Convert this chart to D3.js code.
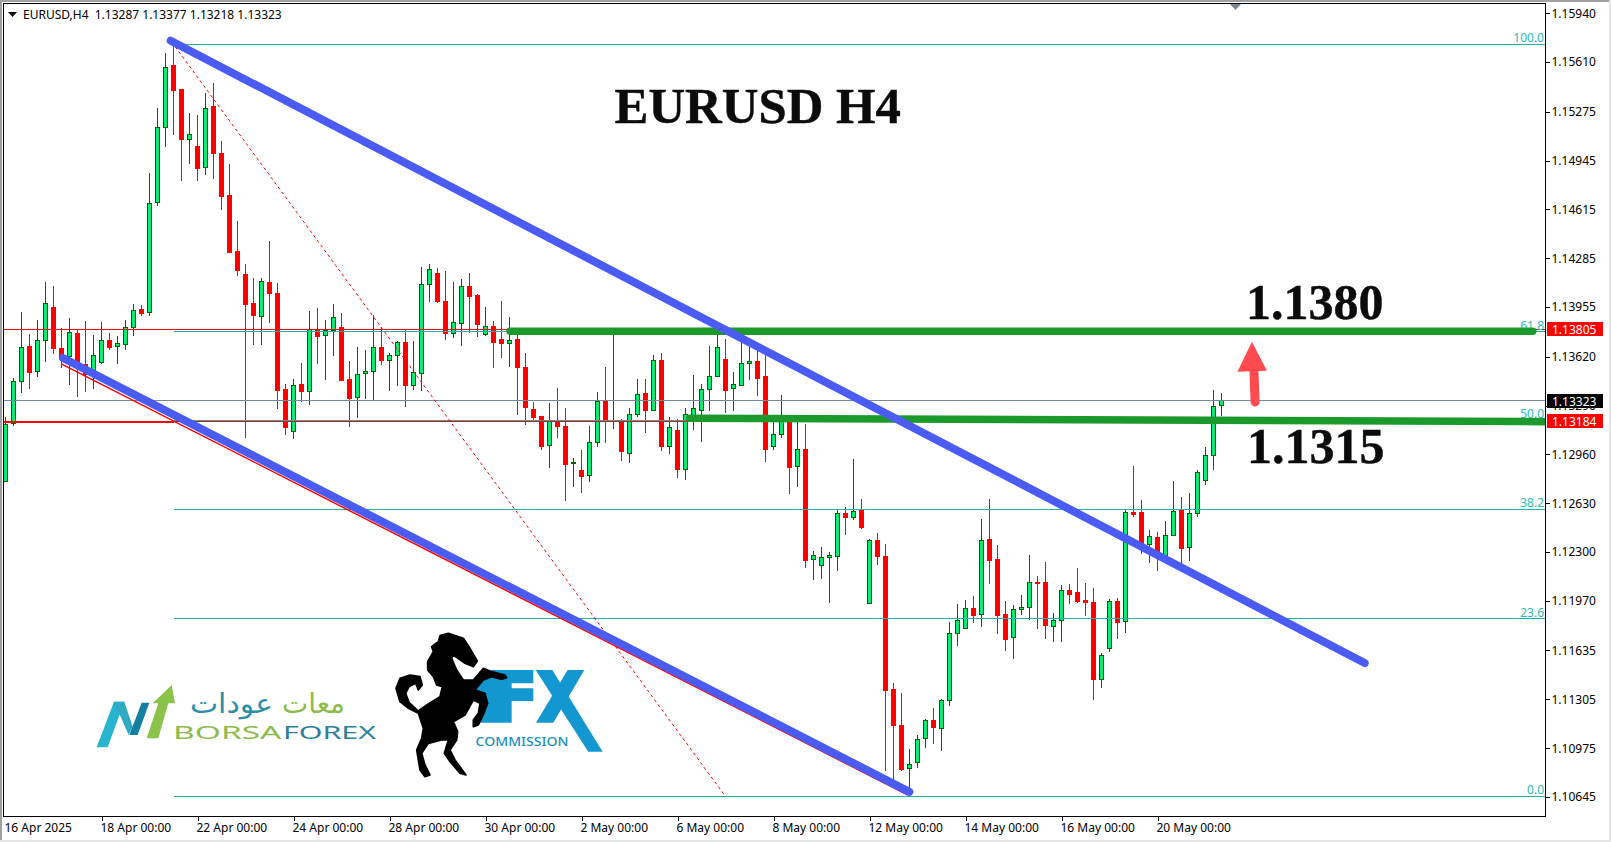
<!DOCTYPE html>
<html><head><meta charset="utf-8">
<script src="https://cdn.jsdelivr.net/npm/d3@7/dist/d3.min.js"></script>
<style>
html,body{margin:0;padding:0;background:#fff;overflow:hidden}
svg{display:block}
.ax text{font-family:"Noto Sans",sans-serif;font-size:12px;fill:#000}
.ax path,.ax line{stroke:#000;stroke-width:1;shape-rendering:crispEdges}
</style></head><body><div id="c"></div>
<script>
const opens=[1.12780,1.13170,1.13451,1.13692,1.13519,1.13730,1.13953,1.13678,1.13620,1.13778,
1.13564,1.13507,1.13579,1.13730,1.13688,1.13703,1.13816,1.13942,1.13920,1.14663,
1.15170,1.15584,1.15422,1.15088,1.15043,1.14897,1.15307,1.14994,1.14710,1.14332,
1.14176,1.13976,1.13890,1.14122,1.14048,1.13395,1.13113,1.13435,1.13386,1.13800,
1.13764,1.13796,1.13818,1.13469,1.13343,1.13507,1.13519,1.13683,1.13595,1.13627,
1.13717,1.13426,1.13505,1.14109,1.14179,1.13996,1.13778,1.13843,1.14095,1.14030,
1.13769,1.13827,1.13733,1.13708,1.13739,1.13550,1.13260,1.13219,1.13019,1.13181,
1.13151,1.12899,1.12854,1.12816,1.13041,1.13320,1.13185,1.13192,1.12964,1.13228,
1.13368,1.13260,1.13597,1.13012,1.13118,1.12856,1.13226,1.13260,1.13397,1.13485,
1.13604,1.13404,1.13424,1.13573,1.13588,1.13489,1.13012,1.13093,1.13181,1.12877,
1.12996,1.12248,1.12208,1.12262,1.12268,1.12561,1.12532,1.12584,1.11953,1.12379,
1.12271,1.11368,1.11129,1.10836,1.10877,1.11039,1.11163,1.11106,1.11296,1.11748,
1.11784,1.11919,1.11876,1.12388,1.12253,1.11881,1.11723,1.11910,1.11924,1.12097,
1.12091,1.11796,1.11836,1.12043,1.12030,1.11976,1.11962,1.11437,1.11647,1.11969,
1.11832,1.12570,1.12564,1.12350,1.12401,1.12268,1.12410,1.12584,1.12332,1.12559,
1.12782,1.12951,1.13287];
const highs=[1.13215,1.13473,1.13920,1.13773,1.13868,1.14122,1.14097,1.13811,1.13879,1.13800,
1.13861,1.13766,1.13854,1.13778,1.13760,1.13868,1.13976,1.13969,1.14859,1.15300,
1.15670,1.15726,1.15429,1.15264,1.15251,1.15399,1.15467,1.15077,1.14922,1.14537,
1.14244,1.14149,1.14149,1.14399,1.14115,1.13435,1.13469,1.13575,1.13928,1.13947,
1.13868,1.13976,1.13913,1.13591,1.13685,1.13665,1.13901,1.13823,1.13647,1.13728,
1.13800,1.13726,1.14224,1.14246,1.14217,1.14199,1.14122,1.14142,1.14185,1.14043,
1.13956,1.13861,1.13996,1.13888,1.13766,1.13645,1.13311,1.13219,1.13305,1.13408,
1.13273,1.12935,1.12989,1.13149,1.13379,1.13550,1.13800,1.13199,1.13271,1.13469,
1.13469,1.13629,1.13645,1.13212,1.13199,1.13271,1.13494,1.13433,1.13692,1.13800,
1.13739,1.13516,1.13778,1.13688,1.13665,1.13631,1.13226,1.13361,1.13215,1.13192,
1.13163,1.12305,1.12332,1.12298,1.12584,1.12604,1.12928,1.12658,1.12388,1.12428,
1.12354,1.11415,1.11347,1.10969,1.11063,1.11172,1.11246,1.11307,1.11827,1.11949,
1.11976,1.12003,1.12523,1.12658,1.12347,1.11969,1.11942,1.12009,1.12280,1.12138,
1.12232,1.11888,1.12077,1.12084,1.12192,1.12091,1.12057,1.11618,1.11982,1.11989,
1.12584,1.12881,1.12651,1.12449,1.12435,1.12510,1.12780,1.12672,1.12699,1.12854,
1.13010,1.13395,1.13377];
const lows=[1.12780,1.13154,1.13377,1.13401,1.13485,1.13586,1.13638,1.13546,1.13429,1.13350,
1.13383,1.13401,1.13570,1.13665,1.13570,1.13665,1.13762,1.13897,1.13897,1.14640,
1.15039,1.15118,1.14807,1.14922,1.14807,1.14847,1.14820,1.14611,1.14323,1.14165,
1.13073,1.13699,1.13699,1.13850,1.13266,1.13091,1.13064,1.13316,1.13293,1.13570,
1.13462,1.13624,1.13456,1.13147,1.13208,1.13332,1.13323,1.13564,1.13388,1.13424,
1.13282,1.13395,1.13390,1.13992,1.13985,1.13733,1.13748,1.13694,1.13782,1.13755,
1.13760,1.13543,1.13613,1.13550,1.13226,1.13158,1.13192,1.12989,1.12868,1.13070,
1.12645,1.12739,1.12699,1.12773,1.13012,1.13037,1.13131,1.12915,1.12901,1.13215,
1.13104,1.13253,1.12982,1.12962,1.12800,1.12787,1.13124,1.13043,1.13253,1.13480,
1.13239,1.13253,1.13422,1.13462,1.13354,1.12908,1.12989,1.13070,1.12692,1.12739,
1.12192,1.12111,1.12118,1.11955,1.12172,1.12415,1.12516,1.12455,1.11949,1.12212,
1.10820,1.10759,1.10822,1.10669,1.10843,1.10978,1.11005,1.10958,1.11259,1.11665,
1.11780,1.11820,1.11793,1.12084,1.11746,1.11631,1.11577,1.11874,1.11841,1.11780,
1.11712,1.11692,1.11692,1.11949,1.11955,1.11868,1.11300,1.11381,1.11624,1.11712,
1.11753,1.12537,1.12287,1.12226,1.12172,1.12246,1.12408,1.12219,1.12239,1.12537,
1.12753,1.12854,1.13218];
const closes=[1.13165,1.13453,1.13683,1.13519,1.13730,1.13980,1.13674,1.13620,1.13784,1.13575,
1.13496,1.13629,1.13730,1.13681,1.13710,1.13818,1.13933,1.13915,1.14656,1.15170,
1.15575,1.15417,1.15084,1.15122,1.14897,1.15298,1.14989,1.14701,1.14327,1.14201,
1.13971,1.13895,1.14129,1.14046,1.13390,1.13140,1.13426,1.13390,1.13802,1.13762,
1.13800,1.13886,1.13462,1.13343,1.13501,1.13521,1.13683,1.13593,1.13629,1.13717,
1.13429,1.13512,1.14109,1.14210,1.13989,1.13782,1.13852,1.14095,1.14025,1.13836,
1.13825,1.13721,1.13708,1.13730,1.13552,1.13282,1.13208,1.13019,1.13181,1.13147,
1.12897,1.12906,1.12814,1.13041,1.13318,1.13192,1.13192,1.12982,1.13230,1.13365,
1.13253,1.13595,1.13016,1.13142,1.12854,1.13230,1.13271,1.13399,1.13487,1.13683,
1.13395,1.13433,1.13575,1.13588,1.13476,1.12996,1.13095,1.13181,1.12868,1.12994,
1.12246,1.12278,1.12264,1.12278,1.12561,1.12532,1.12575,1.12469,1.12379,1.12268,
1.11368,1.11127,1.10834,1.10865,1.11034,1.11163,1.11113,1.11298,1.11750,1.11838,
1.11919,1.11874,1.12379,1.12246,1.11874,1.11712,1.11913,1.11926,1.12095,1.12093,
1.11800,1.11838,1.12041,1.12016,1.11969,1.11962,1.11442,1.11602,1.11967,1.11827,
1.12568,1.12557,1.12314,1.12406,1.12280,1.12413,1.12575,1.12327,1.12561,1.12838,
1.12953,1.13284,1.13323];

const priceTicks=[1.15940,1.15610,1.15275,1.14945,1.14615,1.14285,1.13955,1.13620,1.13290,1.12960,1.12630,1.12300,1.11970,1.11635,1.11305,1.10975,1.10645];
const timeTickBars=[0,12,24,36,48,60,72,84,96,108,120,132,144];
const timeTickLabels=["16 Apr 2025","18 Apr 00:00","22 Apr 00:00","24 Apr 00:00","28 Apr 00:00","30 Apr 00:00","2 May 00:00","6 May 00:00","8 May 00:00","12 May 00:00","14 May 00:00","16 May 00:00","20 May 00:00"];
const fibLevels=[100.0,61.8,50.0,38.2,23.6,0.0];
const fibHigh=1.15731, fibLow=1.10649, fibStartBar=21;
const bidPrice=1.13323;
const redLevels=[1.13805,1.13184];
const lowerChannel=[[7.19,1.13611],[112.98,1.10680]];
const lowerChannelRed=[[7.03,1.13570],[112.8,1.10658]];
const upperChannel=[[20.65,1.15755],[169.9,1.11550]];
const fibDiagonal=[[21.2,1.15715],[90.0,1.10649]];
const greenUpper=[[63.06,1.13792],[190.9,1.13792]];
const greenLower=[[85.5,1.13204],[192.5,1.13181]];
const arrowTip=[155.8,1.13721], arrowTail=[156.2,1.13314];
const headerText="EURUSD,H4  1.13287 1.13377 1.13218 1.13323";

const W=1611,H=842,L=4,T=4,R=1545.5,B=816.5;
const svg=d3.select("#c").append("svg").attr("width",W).attr("height",H);
const y=d3.scaleLinear().domain([1.15940,1.10645]).range([13.3,797]);
const x=d3.scaleLinear().domain([0,152]).range([5.5,1221.5]);
const crisp=v=>Math.round(v-0.5)+0.5;

svg.append("rect").attr("x",0).attr("y",0).attr("width",W).attr("height",2).attr("fill","#a0a0a0");
svg.append("rect").attr("x",0).attr("y",0).attr("width",2).attr("height",H).attr("fill","#a0a0a0");
svg.append("rect").attr("x",W-2).attr("y",0).attr("width",2).attr("height",H).attr("fill","#e4e4e4");
svg.append("rect").attr("x",0).attr("y",H-2).attr("width",W).attr("height",2).attr("fill","#e4e4e4");

svg.append("defs").append("clipPath").attr("id","plot").append("rect")
 .attr("x",L).attr("y",T).attr("width",R-L).attr("height",B-T);
const plot=svg.append("g").attr("clip-path","url(#plot)");

const data=opens.map((o,i)=>({i,o,h:highs[i],l:lows[i],c:closes[i]}));
const cg=plot.append("g").attr("shape-rendering","crispEdges");
const DK="#006400",BU="#00EE76",RD="#FF0000";
const up=d=>d.c>=d.o;
cg.selectAll("line").data(data).join("line")
 .attr("x1",d=>x(d.i)).attr("x2",d=>x(d.i))
 .attr("y1",d=>y(d.h)).attr("y2",d=>y(d.l))
 .attr("stroke",d=>up(d)?DK:RD);
cg.selectAll("rect").data(data).join("rect")
 .attr("x",d=>x(d.i)-2).attr("width",4)
 .attr("y",d=>crisp(y(Math.max(d.o,d.c))))
 .attr("height",d=>Math.max(1,Math.round(Math.abs(y(d.o)-y(d.c)))))
 .attr("fill",d=>up(d)?BU:RD).attr("stroke",d=>up(d)?DK:RD);

const hl=plot.append("g").attr("shape-rendering","crispEdges");
hl.selectAll("line.r").data(redLevels).join("line").attr("class","r")
 .attr("x1",L).attr("x2",R).attr("y1",d=>crisp(y(d))).attr("y2",d=>crisp(y(d))).attr("stroke",RD);
hl.append("line").attr("x1",L).attr("x2",x(fibStartBar)).attr("y1",crisp(y(redLevels[1]))).attr("y2",crisp(y(redLevels[1]))).attr("stroke",RD).attr("stroke-width",2);
hl.append("line").attr("x1",L).attr("x2",R).attr("y1",crisp(y(bidPrice))).attr("y2",crisp(y(bidPrice))).attr("stroke","#778899");
const fibPrice=l=>fibLow+(fibHigh-fibLow)*l/100;
hl.selectAll("line.f").data(fibLevels).join("line").attr("class","f")
 .attr("x1",x(fibStartBar)).attr("x2",R)
 .attr("y1",d=>crisp(y(fibPrice(d)))).attr("y2",d=>crisp(y(fibPrice(d)))).attr("stroke","#20B2AA");
plot.selectAll("text.f").data(fibLevels).join("text").attr("class","f")
 .attr("x",R-1.5).attr("y",d=>y(fibPrice(d))-2).attr("text-anchor","end")
 .attr("font-family","Noto Sans, sans-serif").attr("font-size",12).attr("fill","#2DBBB3")
 .text(d=>d.toFixed(1));

const ln=d3.line().x(d=>x(d[0])).y(d=>y(d[1]));
plot.append("path").attr("d",ln(fibDiagonal)).attr("fill","none").attr("stroke",RD).attr("stroke-dasharray","3,3");
plot.append("path").attr("d",ln(lowerChannelRed)).attr("fill","none").attr("stroke",RD).attr("stroke-width",1.5);
plot.append("path").attr("d",ln(greenLower)).attr("fill","none").attr("stroke","#1B9A2B").attr("stroke-width",7.5).attr("stroke-linecap","round");
plot.append("path").attr("d",ln(greenUpper)).attr("fill","none").attr("stroke","#1B9A2B").attr("stroke-width",7.5).attr("stroke-linecap","round");
[upperChannel,lowerChannel].forEach(s=>plot.append("path").attr("d",ln(s)).attr("fill","none").attr("stroke","#4A5CF5").attr("stroke-width",8).attr("stroke-linecap","round"));

const ax=x(arrowTip[0]),ay=y(arrowTip[1]);
plot.append("path").attr("d",ln([[arrowTail[0],arrowTail[1]],[arrowTip[0]+0.25,y.invert(ay+28)]])).attr("stroke","#FF4B4F").attr("stroke-width",9).attr("stroke-linecap","round").attr("fill","none");
plot.append("path").attr("d",`M${ax},${ay}L${ax+15},${ay+29}L${ax-14.5},${ay+30}Z`).attr("fill","#FF4B4F");

const serif='"Liberation Serif",serif';
const big=(t,px,py,fs)=>plot.append("text").attr("x",px).attr("y",py).attr("font-family",serif).attr("font-weight",700).attr("font-size",fs).attr("fill","#0b0b0b").attr("stroke","#0b0b0b").attr("stroke-width",0.4).text(t);
big("EURUSD H4",614.5,123,50.8);
big("1.1380",1246,318.5,50);
big("1.1315",1247,463,50);

const lg=plot.append("g").attr("transform","translate(90,670) scale(0.3333)");
lg.append("path").attr("d","M20,232L72,95L103,95L53,232Z").attr("fill","#27B4CC");
lg.append("path").attr("d","M72,95L103,95L128,170L116,195Z").attr("fill","#2FA9C4");
lg.append("path").attr("d","M118,195L143,195L178,98L155,98Z").attr("fill","#127FA0");
lg.append("path").attr("d","M170,205L205,205L235,100L255,100L245,45L188,100L205,100Z").attr("fill","#8BC34A");
const tl=(t,px,py,fs,fam,fill,len,w)=>plot.append("text").attr("x",px).attr("y",py).attr("font-family",fam).attr("font-size",fs).attr("font-weight",w||400).attr("fill",fill).attr("textLength",len).attr("lengthAdjust","spacingAndGlyphs").text(t);
tl("BORSA",173,738.5,18,'"Noto Sans",sans-serif',"#8DBB4D",108.5);
tl("FOREX",283,738.5,18,'"Noto Sans",sans-serif',"#2F7F9A",93);
const ar=(t,right,len,fill)=>plot.append("text").attr("x",right).attr("y",713).attr("direction","rtl").attr("text-anchor","start").attr("font-family",'"DejaVu Sans",sans-serif').attr("font-size",27).attr("fill",fill).attr("textLength",len).attr("lengthAdjust","spacingAndGlyphs").text(t);
ar("عودات",273,83,"#2C8FA8");
ar("معات",345,63,"#8DBB4D");

const fx=plot.append("g").attr("transform","translate(385,625) scale(0.3333)");
fx.append("path").attr("d","M295,135L445,135L445,175L380,175L380,190L445,190L445,228L380,228L380,293L285,293L300,240L265,200Z").attr("fill","#1297D0");
fx.append("path").attr("d","M548,135L598,135L505,293L453,293Z").attr("fill","#1297D0");
fx.append("path").attr("d","M452,135L502,135L653,380L610,380Z").attr("fill","#1297D0");
fx.append("path").attr("d","M165,32L190,25L235,40L255,70L277,108L265,125L240,115L205,90L200,100L215,135L235,165L265,165L295,130L320,140L360,150L365,158L350,163L320,155L295,165L270,195L300,205L308,235L295,270L280,300L265,305L265,285L280,265L285,235L265,225L240,270L205,290L218,320L215,345L195,375L210,405L243,450L225,445L195,410L178,385L190,345L170,345L130,355L110,385L120,420L135,450L120,455L105,435L95,375L110,340L115,310L100,265L70,250L45,230L33,190L45,160L75,150L105,155L112,180L100,195L92,175L72,185L62,205L72,232L100,258L125,240L165,215L172,185L155,180L145,155L128,135L128,110L145,80L140,65L160,50Z").attr("fill","#000").attr("stroke","#000").attr("stroke-width",5).attr("stroke-linejoin","round");
tl("COMMISSION",475.5,745.5,13,'"Noto Sans",sans-serif',"#1E8FC0",93,500);

plot.append("path").attr("d","M8,12L17,12L12.5,17Z").attr("fill","#000");
plot.append("text").attr("x",23).attr("y",19).attr("font-family","Noto Sans, sans-serif").attr("font-size",12).style("white-space","pre").text(headerText);
plot.append("path").attr("d","M1230,4L1241,4L1235.5,10Z").attr("fill","#778899");

svg.append("rect").attr("x",3.5).attr("y",3.5).attr("width",R-3.5).attr("height",B-3.5).attr("fill","none").attr("stroke","#000").attr("shape-rendering","crispEdges");
const ya=svg.append("g").attr("class","ax").attr("transform",`translate(${R},0)`)
 .call(d3.axisRight(y).tickValues(priceTicks).tickSize(4).tickPadding(2).tickFormat(d3.format(".5f")));
ya.select(".domain").remove();
const xa=svg.append("g").attr("class","ax").attr("transform",`translate(0,${B})`)
 .call(d3.axisBottom(x).tickValues(timeTickBars).tickSize(4).tickPadding(3).tickFormat((d,i)=>timeTickLabels[i]));
xa.select(".domain").remove();
xa.selectAll("text").attr("text-anchor","start").attr("dx",-1.5);
xa.selectAll(".tick").filter(d=>d===0).select("line").remove();

const tags=[[redLevels[0],RD],[bidPrice,"#000"],[redLevels[1],RD]];
tags.forEach(([p,c])=>{
 const py=Math.round(y(p));
 svg.append("rect").attr("x",1547).attr("y",py-7).attr("width",56).attr("height",14).attr("fill",c);
 svg.append("text").attr("x",1552).attr("y",py+4.5).attr("font-family","Noto Sans, sans-serif").attr("font-size",12).attr("fill","#fff").text(p.toFixed(5));
});
</script></body></html>
